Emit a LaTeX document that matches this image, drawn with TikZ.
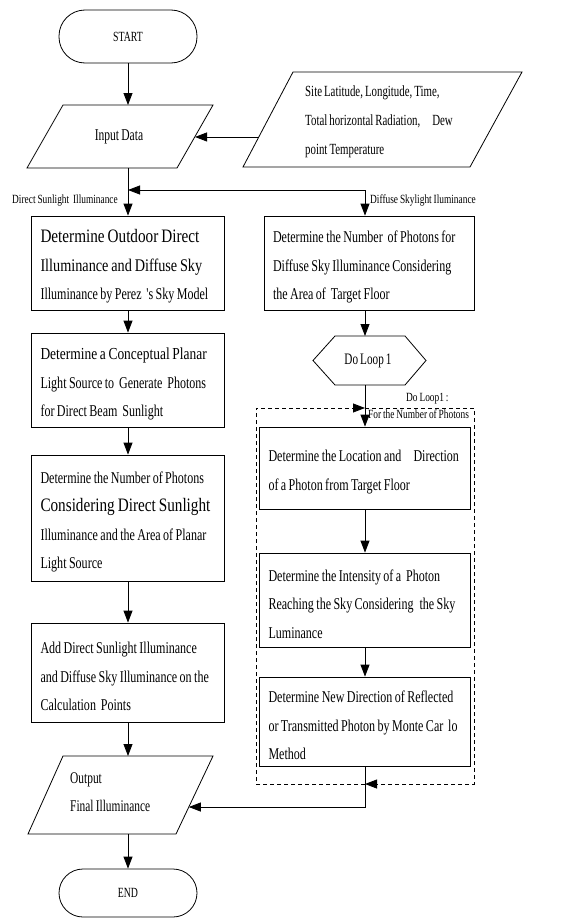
\documentclass[tikz,border=0pt]{standalone}
\usepackage{fontspec}
\setmainfont{Liberation Serif}
\newfontfamily\condf[FakeStretch=0.7,WordSpace=0.75]{Liberation Serif}
\newfontfamily\condx[FakeStretch=0.73,WordSpace=0.8]{Liberation Serif}
\newfontfamily\condb[FakeStretch=0.8,WordSpace=0.8]{Liberation Serif}
\newfontfamily\condl[FakeStretch=0.75,WordSpace=0.8]{Liberation Serif}
\usetikzlibrary{arrows.meta,calc}
\newcommand\bigln[2][19]{{\condb\fontsize{#1}{28.5}\selectfont\mbox{#2}}}
\newcommand\ol[1]{\mbox{#1}}
\begin{document}
\begin{tikzpicture}[x=1pt,y=-1pt,
  ln/.style={line width=0.8pt},
  arr/.style={ln,-{Triangle[length=12pt,width=9pt]}},
  dline/.style={ln,dash pattern=on 4pt off 3pt},
  term/.style={draw,ln,minimum width=138pt,font=\condf\fontsize{14}{16}\selectfont},
  boxA/.style={draw,ln,rectangle,align=left,inner xsep=9pt,inner ysep=0pt,
    font=\condx\fontsize{16.5}{28.5}\selectfont,
    execute at begin node={\spaceskip=0pt\relax\xspaceskip=0pt\relax\rule{0pt}{20pt}}},
  lab/.style={inner sep=0pt,anchor=base west,font=\condl\fontsize{12.5}{14}\selectfont},
  txt/.style={inner sep=0pt,align=left}
]
\useasboundingbox (0,0) rectangle (568,918);

% terminals
\node[term,minimum height=53pt,rounded corners=26pt] (start) at (128,36.5) {START};
\node[term,minimum height=48pt,rounded corners=24pt] (end) at (128,893) {END};

% input data parallelogram
\coordinate (inTL) at (63,105);
\coordinate (inTR) at (213,105);
\coordinate (inBR) at (177,168);
\coordinate (inBL) at (27,168);
\draw[ln] (inTL) -- (inTR) -- (inBR) -- (inBL) -- cycle;
\node[txt,font=\condf\fontsize{16.5}{18}\selectfont] (in) at (119,137) {Input Data};
\coordinate (inR) at ($(inBR)!0.5!(inTR)$);

% site data parallelogram
\coordinate (siteTL) at (293,72);
\coordinate (siteTR) at (522,72);
\coordinate (siteBR) at (470,167);
\coordinate (siteBL) at (243,167);
\draw[ln] (siteTL) -- (siteTR) -- (siteBR) -- (siteBL) -- cycle;
\node[txt,anchor=west,font=\condf\fontsize{15.5}{29}\selectfont] (site) at (305,122)
  {\ol{Site Latitude, Longitude, Time,}\\\ol{Total horizontal Radiation,\hspace{12pt}Dew}\\\ol{point Temperature}};
\coordinate (siteL) at ($(siteBL)!0.316!(siteTL)$);

% output parallelogram
\coordinate (outTL) at (63,756);
\coordinate (outTR) at (213,756);
\coordinate (outBR) at (176,834);
\coordinate (outBL) at (28,834);
\draw[ln] (outTL) -- (outTR) -- (outBR) -- (outBL) -- cycle;
\node[txt,anchor=west,font=\condf\fontsize{16.3}{28}\selectfont] (out) at (70,792) {Output\\Final Illuminance};
\coordinate (outR) at ($(outBR)!0.346!(outTR)$);

% left column
\node[boxA,text width=175pt,minimum height=94pt] (b1) at (128,263)
  {\bigln{Determine Outdoor Direct}\\\bigln[17.8]{Illuminance and Diffuse Sky}\\\ol{Illuminance by Perez\ \ 's Sky\ Model}};
\node[boxA,text width=175pt,minimum height=94pt] (b2) at (128,380)
  {\bigln[16.8]{Determine a Conceptual Planar}\\\ol{Light Source to\ \ Generate\ \ Photons}\\\ol{for Direct Beam\ \ Sunlight}};
\node[boxA,text width=175pt,minimum height=126pt] (b3) at (128,518)
  {\ol{Determine the Number of Photons}\\\bigln{Considering Direct Sunlight}\\\ol{Illuminance and the Area of Planar}\\\ol{Light Source}};
\node[boxA,text width=175pt,minimum height=99pt] (b4) at (128,672.5)
  {\ol{Add Direct Sunlight Illuminance}\\\ol{and Diffuse Sky Illuminance on the}\\\ol{Calculation\ \ Points}};

% right column
\coordinate (rx) at (365,0);
\node[boxA,text width=192pt,minimum height=94pt] (r1) at (369,263)
  {\ol{Determine the Number\ \ of Photons for}\\\ol{Diffuse Sky Illuminance Considering}\\\ol{the Area of\ \ Target Floor}};
\draw[ln] (313,360.5) -- (335,336) -- (405,336) -- (426,360.5) -- (405,385) -- (335,385) -- cycle;
\node[txt,font=\condf\fontsize{16}{18}\selectfont] (hex) at (368,361) {Do Loop 1};
\coordinate (hexT) at (365,336);
\coordinate (hexB) at (365,385);
\node[boxA,text width=193pt,minimum height=82pt] (r2) at (365,468)
  {\ol{Determine the Location and\hspace{12pt}Direction}\\\ol{of a Photon from Target Floor}};
\node[boxA,text width=193pt,minimum height=94pt] (r3) at (365,600)
  {\ol{Determine the Intensity of a\ \ Photon}\\\ol{Reaching the Sky Considering\hspace{6pt}the Sky}\\\ol{Luminance}};
\node[boxA,text width=193pt,minimum height=89pt] (r4) at (365,721.5)
  {\ol{Determine New Direction of Reflected}\\\ol{or Transmitted Photon by Monte Car\ \ lo}\\\ol{Method}};

% dashed loop frame
\coordinate (fTL) at (256,408);
\coordinate (fTR) at (474,408);
\coordinate (fBR) at (474,784);
\coordinate (fBL) at (256,784);
\draw[dline,-{Triangle[length=12pt,width=9pt]}] (fTL -| rx) -- (fTR) -- (fBR) -- (fBR -| rx);
\draw[dline,-{Triangle[length=12pt,width=9pt]}] (fBR -| rx) -- (fBL) -- (fTL) -- (fTL -| rx);

% labels
\node[lab] (lDir) at (12,203) {Direct Sunlight\ \ Illuminance};
\node[lab] (lDif) at (370,203) {Diffuse\ Skylight\ Iluminance};
\node[lab] (lLoop) at (406,401) {Do Loop1 :};
\node[lab] (lFor) at (368,418.5) {For the Number of Photons};

% connectors
\draw[arr] (start.south) -- (start.south |- inTL);
\draw[arr] (siteL) -- (siteL -| inR);
\draw[arr] (b1.north |- inBL) -- (b1.north);
\coordinate (br) at (365,190);
\draw[arr] (br) -- (br -| b1.north);
\draw[arr] (br) -- (br |- r1.north);
\draw[arr] (b1) -- (b2);
\draw[arr] (b2) -- (b3);
\draw[arr] (b3) -- (b4);
\draw[arr] (b4.south) -- (b4.south |- outTL);
\draw[arr] (end.north |- outBL) -- (end.north);
\draw[arr] (r1.south -| rx) -- (hexT);
\draw[arr] (hexB) -- (r2.north);
\draw[arr] (r2) -- (r3);
\draw[arr] (r3) -- (r4);
\draw[arr] (r4.south) |- (outR);
\end{tikzpicture}
\end{document}
